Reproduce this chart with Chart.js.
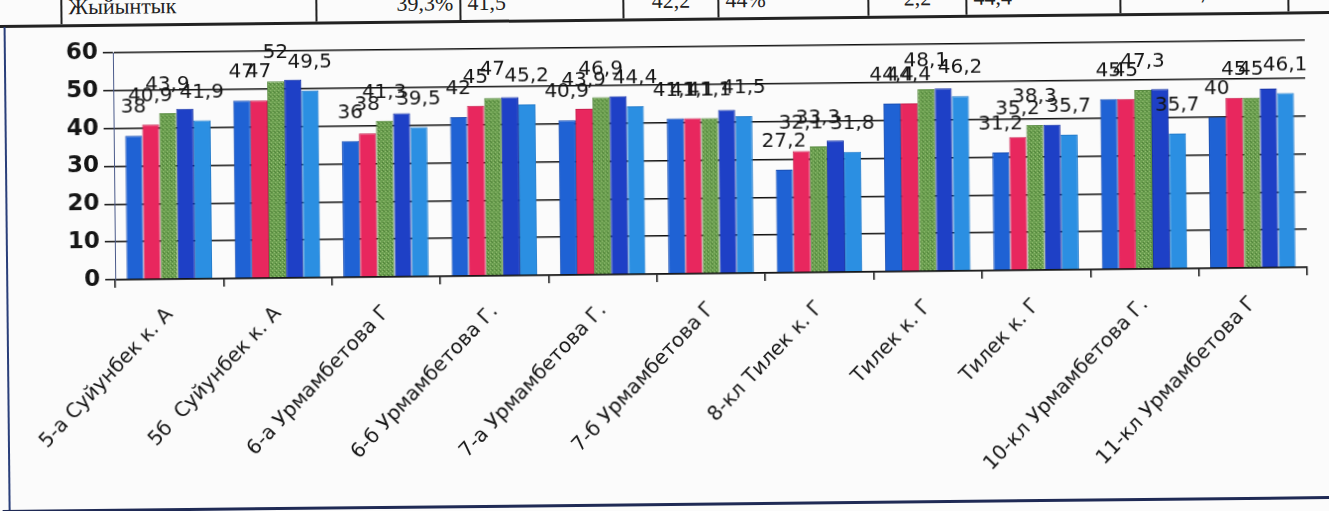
<!DOCTYPE html>
<html lang="ru">
<head>
    <meta charset="UTF-8">
    <title>Результаты по классам</title>
    <script src="https://cdn.jsdelivr.net/npm/chart.js"></script>
    <style>
        html, body {
            margin: 0;
            padding: 0;
            overflow: hidden;
        }
        ::-webkit-scrollbar {
            display: none;
            width: 0;
            height: 0;
        }
        body {
            width: 1329px;
            height: 511px;
            position: relative;
            background-color: #fbfbfb;
        }
        #page {
            position: absolute;
            left: 0;
            top: 0;
            width: 1329px;
            height: 511px;
            transform: rotate(-0.6deg);
        }
        /* cut-off table row above the chart */
        #tbl {
            position: absolute;
            left: -20px;
            top: -14px;
            width: 1360px;
            height: 32px;
            border-bottom: 3px solid #222;
            font-family: 'Liberation Serif', serif;
            font-size: 22px;
            color: #222;
        }
        #tbl span {
            position: absolute;
            top: 0;
            height: 32px;
            line-height: 30px;
            border-left: 2px solid #222;
            box-sizing: border-box;
            padding: 0 6px;
        }
        #frameLeft {
            position: absolute;
            left: 6px;
            top: 20px;
            width: 2px;
            height: 500px;
            background-color: #2a3f7a;
        }
        #frameBottom {
            position: absolute;
            left: 0;
            top: 503px;
            width: 1329px;
            height: 3px;
            background-color: #1f2a55;
        }
        #chartWrap {
            position: absolute;
            left: 10px;
            top: 24px;
            width: 1319px;
            height: 476px;
        }
    </style>
</head>
<body>
<div id="page">
    <div id="tbl">
        <span style="left:83px;width:255px;text-align:left;">Жыйынтык</span>
        <span style="left:338px;width:144px;text-align:right;">39,3%</span>
        <span style="left:482px;width:163px;text-align:left;">41,5</span>
        <span style="left:645px;width:95px;text-align:center;">42,2</span>
        <span style="left:740px;width:150px;text-align:left;">44%</span>
        <span style="left:890px;width:98px;text-align:center;">2,2</span>
        <span style="left:988px;width:154px;text-align:left;">44,4</span>
        <span style="left:1142px;width:168px;text-align:center;">7</span>
        <span style="left:1310px;width:40px;"></span>
    </div>
    <div id="frameLeft"></div>
    <div id="frameBottom"></div>
    <div id="chartWrap">
        <canvas id="classChart"></canvas>
    </div>
</div>

<script>
    // categories (classes)
    const classes = [
        '5-а Суйунбек к. А',
        '5б  Суйунбек к. А',
        '6-а Урмамбетова Г',
        '6-б Урмамбетова Г.',
        '7-а Урмамбетова Г.',
        '7-б Урмамбетова Г',
        '8-кл Тилек к. Г',
        'Тилек к. Г',
        'Тилек к. Г',
        '10-кл Урмамбетова Г.',
        '11-кл Урмамбетова Г'
    ];

    const series1 = [38, 47, 36, 42, 40.9, 41.1, 27.2, 44.4, 31.2, 45, 40];
    const series2 = [40.9, 47, 38, 45, 43.9, 41.1, 32.1, 44.4, 35.2, 45, 45];
    const series3 = [43.9, 52, 41.3, 47, 46.9, 41.1, 33.3, 48.1, 38.3, 47.3, 45];
    const series4 = [45, 52.4, 43.2, 47.2, 47.1, 43.2, 34.8, 48.3, 38.4, 47.5, 47.3];
    const series5 = [41.9, 49.5, 39.5, 45.2, 44.4, 41.5, 31.8, 46.2, 35.7, 35.7, 46.1];

    const yTicks = [0, 10, 20, 30, 40, 50, 60];

    // speckled green fill like the printed bars
    function greenPattern() {
        const c = document.createElement('canvas');
        c.width = 4;
        c.height = 4;
        const g = c.getContext('2d');
        g.fillStyle = '#6b9f50';
        g.fillRect(0, 0, 4, 4);
        g.fillStyle = '#94bd72';
        g.fillRect(0, 0, 1, 1);
        g.fillRect(2, 2, 1, 1);
        g.fillStyle = '#4f8038';
        g.fillRect(2, 0, 1, 1);
        g.fillRect(1, 3, 1, 1);
        return g.createPattern(c, 'repeat');
    }

    // value labels above the bars (4th series has none)
    const barLabels = {
        id: 'barLabels',
        afterDatasetsDraw(chart) {
            const ctx = chart.ctx;
            ctx.save();
            ctx.font = '20px "DejaVu Sans"';
            ctx.fillStyle = '#151515';
            ctx.textAlign = 'center';
            ctx.textBaseline = 'bottom';
            chart.data.datasets.forEach((ds, i) => {
                if (i === 3) return;
                chart.getDatasetMeta(i).data.forEach((bar, j) => {
                    const txt = String(ds.data[j]).replace('.', ',');
                    ctx.fillText(txt, bar.x, bar.y - 18);
                });
            });
            ctx.restore();
        }
    };

    const ctx = document.getElementById('classChart').getContext('2d');
    const classChart = new Chart(ctx, {
        type: 'bar',
        data: {
            labels: classes,
            datasets: [
                { data: series1, backgroundColor: '#1f62d4', borderColor: '#1a4fb4', borderWidth: 1 },
                { data: series2, backgroundColor: '#e8275e', borderColor: '#c81f4e', borderWidth: 1 },
                { data: series3, backgroundColor: greenPattern(), borderColor: '#5a8c42', borderWidth: 1 },
                { data: series4, backgroundColor: '#1e40c6', borderColor: '#1834a8', borderWidth: 1 },
                { data: series5, backgroundColor: '#2b8fe2', borderColor: '#237ccc', borderWidth: 1 }
            ]
        },
        options: {
            responsive: true,
            maintainAspectRatio: false,
            animation: false,
            layout: { padding: { top: 23, right: 22, left: 0, bottom: 0 } },
            datasets: {
                bar: { categoryPercentage: 0.79, barPercentage: 1.0 }
            },
            plugins: {
                legend: { display: false },
                tooltip: { enabled: false }
            },
            scales: {
                x: {
                    afterFit: s => { s.height = 226; },
                    grid: {
                        drawOnChartArea: false,
                        offset: true,
                        tickLength: 8,
                        color: '#111',
                        lineWidth: 1.5
                    },
                    border: { color: '#111', width: 1.5 },
                    ticks: {
                        minRotation: 46,
                        maxRotation: 46,
                        autoSkip: false,
                        padding: 16,
                        color: '#151515',
                        font: { family: 'DejaVu Sans', size: 20 }
                    }
                },
                y: {
                    min: 0,
                    max: 60,
                    afterFit: s => { s.width = 105; },
                    afterBuildTicks: s => { s.ticks = yTicks.map(v => ({ value: v })); },
                    grid: {
                        color: '#111',
                        lineWidth: 1.5,
                        tickLength: 10
                    },
                    border: { color: '#4a5a8a', width: 1 },
                    ticks: {
                        padding: 5,
                        color: '#151515',
                        font: { family: 'DejaVu Sans', size: 23, weight: 'bold' }
                    }
                }
            }
        },
        plugins: [barLabels]
    });
</script>
</body>
</html>
